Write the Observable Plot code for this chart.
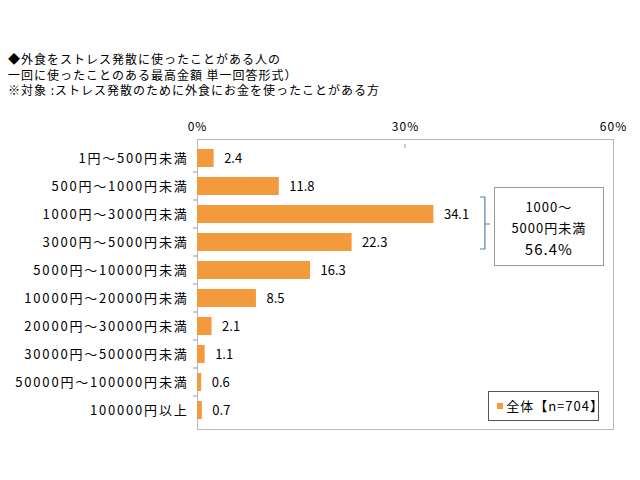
<!DOCTYPE html>
<html>
<head>
<meta charset="utf-8">
<script src="https://cdn.jsdelivr.net/npm/d3@7"></script>
<script src="https://cdn.jsdelivr.net/npm/@observablehq/plot@0.6"></script>
<style>
  html, body { margin: 0; padding: 0; background: #fff; }
  #wrap { position: relative; width: 640px; height: 480px; font-family: "Noto Sans CJK JP", sans-serif; }
  #title { position: absolute; left: 8px; top: 51px; font-size: 12px; line-height: 15.5px; color: #000; white-space: nowrap; letter-spacing: 1px; }
  .box { position: absolute; background: #fff; }
</style>
</head>
<body>
<div id="wrap">
  <div id="chart"></div>
  <div id="title"></div>
</div>
<script>
const titleLines = [
  "◆外食をストレス発散に使ったことがある人の",
  "一回に使ったことのある最高金額 単一回答形式）",
  "※対象 :ストレス発散のために外食にお金を使ったことがある方"
];
const categories = [
  "1円～500円未満",
  "500円～1000円未満",
  "1000円～3000円未満",
  "3000円～5000円未満",
  "5000円～10000円未満",
  "10000円～20000円未満",
  "20000円～30000円未満",
  "30000円～50000円未満",
  "50000円～100000円未満",
  "100000円以上"
];
const values = [2.4, 11.8, 34.1, 22.3, 16.3, 8.5, 2.1, 1.1, 0.6, 0.7];
const xTicks = [0, 30, 60];
const summaryLines = ["1000～", "5000円未満", "56.4%"];
const bracketCategories = ["1000円～3000円未満", "3000円～5000円未満"];
const legendLabel = "全体【n=704】";

document.getElementById("title").innerHTML = titleLines.map(t => `<div>${t}</div>`).join("");

const data = categories.map((c, i) => ({category: c, value: values[i]}));
const orange = "#f39b3c";

const chart = Plot.plot({
  width: 640,
  height: 480,
  marginTop: 139,
  marginBottom: 51,
  marginLeft: 197,
  marginRight: 27,
  style: {fontFamily: "'Noto Sans CJK JP', sans-serif", fontSize: "13px", color: "#000", background: "#fff"},
  x: {domain: [0, 60]},
  y: {domain: categories, padding: 0.34},
  marks: [
    Plot.frame({stroke: "#b8b8b8"}),
    Plot.barX(data, {x: "value", y: "category", fill: orange}),
    Plot.text(data, {x: "value", y: "category", text: d => d.value.toFixed(1), dx: 10, textAnchor: "start", fontSize: 13, fill: "#000", ariaLabel: "value-label"}),
    Plot.axisX({anchor: "top", ticks: xTicks, tickSize: 0, tickPadding: 9, tickFormat: d => d + "%", fontSize: 12, label: null}),
    Plot.axisY({tickSize: 0, tickPadding: 9, fontSize: 13, label: null})
  ]
});
document.getElementById("chart").appendChild(chart);

const svg = d3.select(chart);
svg.selectAll('g[aria-label="y-axis tick label"] text').style("letter-spacing", "1.8px");
svg.selectAll('g[aria-label="x-axis tick label"] text').style("letter-spacing", "1px");
svg.selectAll('g[aria-label="value-label"] text').style("letter-spacing", "1px");

// decorations drawn from the plot's own scales
const sx = chart.scale("x"), sy = chart.scale("y");
const step = sy.step, bw = sy.bandwidth;
const yTop = sy.apply(categories[0]) - (step - bw) / 2;
const g = svg.append("g");
// tick at the middle x value on the top edge
g.append("line").attr("x1", sx.apply(30)).attr("x2", sx.apply(30))
  .attr("y1", yTop).attr("y2", yTop + 4).attr("stroke", "#999");
// small ticks at row boundaries on the left edge
categories.forEach((c, i) => {
  if (i === 0) return;
  const yy = sy.apply(c) - (step - bw) / 2;
  g.append("line").attr("x1", sx.apply(0) - 4).attr("x2", sx.apply(0))
    .attr("y1", yy).attr("y2", yy).attr("stroke", "#999");
});
// bracket
const by1 = sy.apply(bracketCategories[0]) - (step - bw) / 2 - 3;
const by2 = sy.apply(bracketCategories[1]) + bw + (step - bw) / 2 - 7;
const bx = sx.apply(40.8);
const bm = (by1 + by2) / 2 + 1;
g.append("path")
  .attr("d", `M${bx},${by1} h5 V${by2} h-5 M${bx + 5},${bm} h5`)
  .attr("fill", "none").attr("stroke", "#5a7fb0").attr("stroke-width", 1.2);

// summary box (HTML overlay positioned from scales)
const wrap = document.getElementById("wrap");
const box = document.createElement("div");
box.className = "box";
const bxl = sx.apply(42.8), bxr = sx.apply(58.7);
Object.assign(box.style, {
  left: bxl + "px", top: (by1 - 10) + "px", width: (bxr - bxl) + "px", height: "79px",
  border: "1px solid #9a9a9a", boxSizing: "border-box", textAlign: "center",
  fontSize: "13px", lineHeight: "21px", paddingTop: "8px", letterSpacing: "1px"
});
box.innerHTML = summaryLines.map((t, i) => `<div style="${i === 2 ? 'font-size:15px' : ''}">${t}</div>`).join("");
wrap.appendChild(box);

// legend box
const leg = document.createElement("div");
leg.className = "box";
const lxl = sx.apply(42.0), lxr = sx.apply(58.0);
Object.assign(leg.style, {
  left: lxl + "px", top: "391px", width: (lxr - lxl) + "px", height: "30px",
  border: "1px solid #555", boxSizing: "border-box", fontSize: "13px",
  lineHeight: "28px", paddingLeft: "8px", letterSpacing: "1px", whiteSpace: "nowrap"
});
leg.innerHTML = `<span style="display:inline-block;width:6px;height:6px;background:${orange};margin-right:3px;vertical-align:middle;position:relative;top:-1px"></span>${legendLabel}`;
wrap.appendChild(leg);
</script>
</body>
</html>
